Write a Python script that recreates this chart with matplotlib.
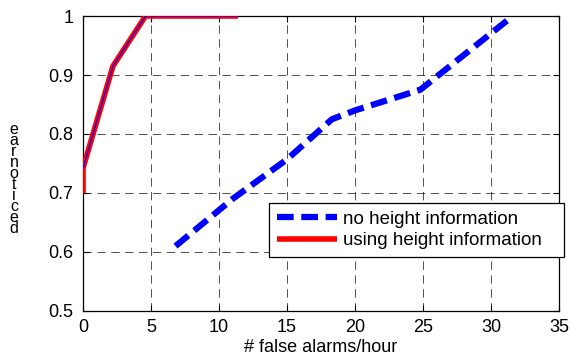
import matplotlib
matplotlib.use("Agg")
import matplotlib.pyplot as plt

plt.rcParams['font.family'] = ['Liberation Sans', 'DejaVu Sans']
plt.rcParams['lines.scale_dashes'] = False

# Data
no_height_x = [6.8, 11.0, 15.0, 18.3, 20.0, 24.8, 31.6]
no_height_y = [0.61, 0.69, 0.757, 0.825, 0.84, 0.875, 1.0]
using_height_x = [0.0, 0.0, 2.2, 4.6, 11.4]
using_height_y = [0.70, 0.742, 0.915, 1.0, 1.0]
xticks = [0, 5, 10, 15, 20, 25, 30, 35]
yticks = [0.5, 0.6, 0.7, 0.8, 0.9, 1.0]
ytick_labels = ['0.5', '0.6', '0.7', '0.8', '0.9', '1']

FS = 13

fig = plt.figure(figsize=(5.71, 3.58), dpi=100)
ax = fig.add_axes([0.1454, 0.1313, 0.8336, 0.8240])

ax.plot(no_height_x, no_height_y, color='#0000ff', lw=4.5, linestyle=(0, (12, 5.5)),
        label='no height information', zorder=3)
ax.plot(using_height_x, using_height_y, color='#ff0000', lw=4,
        label='using height information', zorder=3, solid_capstyle='butt')
ax.plot(using_height_x[1:], using_height_y[1:], color='#0000ff', lw=0.9, zorder=4)

ax.set_xlim(0, 35)
ax.set_ylim(0.5, 1.0)
ax.set_xticks(xticks)
ax.set_yticks(yticks)
ax.set_yticklabels(ytick_labels)
ax.tick_params(direction='in', top=True, right=True, labelsize=FS, length=4,
               width=0.8)
ax.tick_params(axis='x', pad=6)
ax.tick_params(axis='y', pad=7)
ax.grid(True, color='k', linestyle=(0, (6, 4)), lw=0.6, alpha=0.8)
for s in ax.spines.values():
    s.set_linewidth(0.9)

ax.set_xlabel('# false alarms/hour', fontsize=FS, labelpad=2)

fig.text(14 / 571, 1 - 179 / 358, '\n'.join(list('earnoticed')), fontsize=11.5,
         ha='center', va='center', linespacing=0.66)

leg = ax.legend(loc='upper left', bbox_to_anchor=(0.391, 0.176, 0.619, 0.19),
                mode='expand', fontsize=13.5,
                handlelength=3.2, handletextpad=0.35, borderpad=0.4,
                labelspacing=0.25, fancybox=False, framealpha=1,
                edgecolor='k', borderaxespad=0)
leg.get_frame().set_linewidth(0.9)
leg.set_zorder(5)

fig.savefig('out.png', dpi=100)
